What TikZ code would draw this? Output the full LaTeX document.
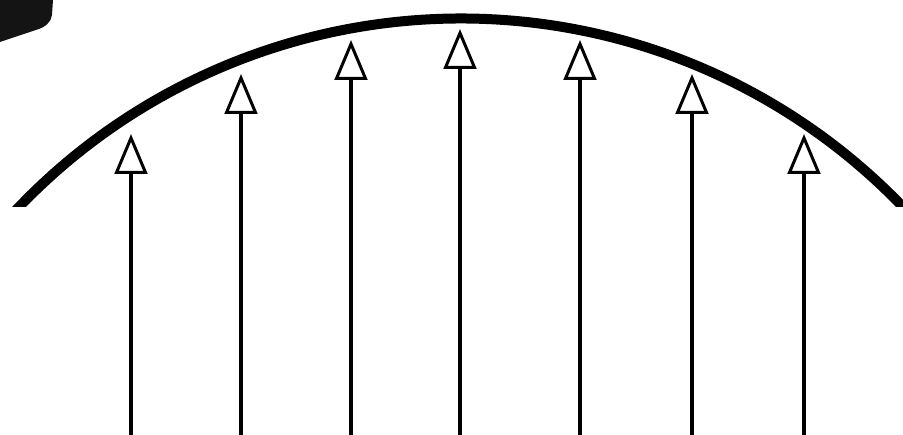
\documentclass[tikz,border=0pt]{standalone}
\usetikzlibrary{calc}
\begin{document}
\begin{tikzpicture}[x=1pt,y=1pt,
  shaft/.style={line width=3.5pt},
  headtri/.style={line width=3pt, line join=miter, fill=white, draw=black},
  rim/.style={line width=10pt}]
\useasboundingbox (0,0) rectangle (903,435);
% top-left dark blob
\fill[black!92] (0,435) -- (53,435) -- (52,420) .. controls (51,413) and (46,408) .. (36,405) -- (0,393) -- cycle;
% arc
\begin{scope}
\clip (0,228) rectangle (903,435);
\draw[rim] (461,-196) ++(140:612.5) arc[start angle=140, end angle=40, radius=612.5];
\end{scope}
% arrows
\foreach \i/\x/\tip/\base in {1/131/135/174, 2/241/75/114, 3/351/41/80, 4/460/30/69, 5/580/41/80, 6/692/75/114, 7/804/135/174}{
  \coordinate (b\i) at (\x,0);
  \coordinate (t\i) at (\x,435-\base+1.5);
  \draw[shaft] (b\i) -- (t\i);
  \draw[headtri] (\x,435-\tip-3) -- (\x+14.5,435-\base+1.5) -- (\x-14.5,435-\base+1.5) -- cycle;
}
\end{tikzpicture}
\end{document}
